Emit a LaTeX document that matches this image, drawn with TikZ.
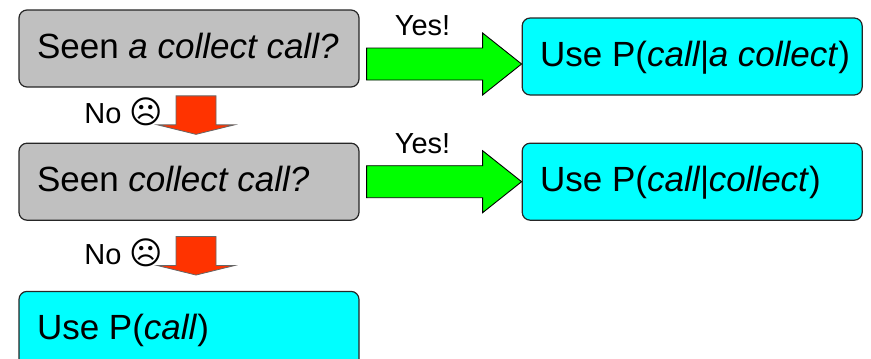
\documentclass[tikz,border=0pt]{standalone}
\usepackage{fontspec}
\setmainfont{Liberation Sans}
\newfontfamily\smileyfont{DejaVu Sans}
\usepackage{tikz}
\usetikzlibrary{calc,positioning}
\definecolor{askgray}{HTML}{C0C0C0}
\definecolor{usecyan}{HTML}{00FFFF}
\definecolor{yesgreen}{HTML}{00FF00}
\definecolor{nored}{HTML}{FF3300}
\tikzstyle{texto} = [inner sep=0pt, font=\fontsize{29}{33}\selectfont]
\tikzstyle{yes} = [draw=black, line width=0.9pt, fill=yesgreen]
\tikzstyle{no} = [draw=black!60, line width=0.8pt, fill=nored]
\newcommand{\yesarrow}[3]{%
  % tip on the west side of #2, moved down by #3
  \coordinate (yt) at ($(#2.west)+(0,#3)$);
  % start of the shaft just right of #1
  \coordinate (ye) at ($(#1.east)+(7pt,0)$);
  \coordinate (ys) at (ye |- yt);
  \path[yes] ($(ys)+(0,16pt)$) -- ($(yt)+(-39pt,16pt)$) -- ++(0,15pt) -- (yt)
    -- ($(yt)+(-39pt,-31pt)$) -- ++(0,15pt) -- ($(ys)+(0,-16pt)$) -- cycle;
  \node[texto] at ($(ys)+(56pt,38pt)$) {Yes!};}
\newcommand{\noarrow}[2]{%
  % arrow centred in the gap between #1 and #2
  \coordinate (nm) at ($(#1.south)!0.5!(#2.north)+(7pt,0)$);
  \coordinate (nt) at ($(nm)+(0,19.25pt)$);
  \path[no] (nt) ++(-20pt,0) -- ++(0,-29pt) -- ++(-18.5pt,0) -- ++(38.5pt,-9.5pt)
    -- ++(38.5pt,9.5pt) -- ++(-18.5pt,0) -- ++(0,29pt) -- cycle;
  \node[texto, anchor=east] at ($(nt)+(-33pt,-16pt)$)
    {No {\smileyfont\fontsize{32}{33}\selectfont ☹}};}

\begin{document}
\begin{tikzpicture}
\tikzset{box/.style={rectangle, rounded corners=8pt, draw=black!85, line width=1.2pt,
  minimum width=340pt, minimum height=77pt, inner xsep=18pt,
  text height=26pt, text depth=7pt, font=\fontsize{35}{40}\selectfont,
  execute at begin node=\hbox to 304pt\bgroup,
  execute at end node=\hss\egroup}}
\tikzset{ask/.style={box, fill=askgray}}
\tikzset{use/.style={box, fill=usecyan}}
\clip (0,0) rectangle (871pt,-359pt);

\node [ask] at (189pt,-48.5pt) (q1) {Seen \textit{a collect call?}};
\node [ask, below=55pt of q1] (q2) {Seen \textit{collect call?}};
\node [use, below=70pt of q2] (u3) {Use P(\textit{call})};
\node [use, right=162pt of q1, yshift=-8pt] (u1) {Use P(\textit{call|a collect})};
\node [use, right=162pt of q2] (u2) {Use P(\textit{call|collect})};

\yesarrow{q1}{u1}{-7.5pt}
\yesarrow{q2}{u2}{0pt}
\noarrow{q1}{q2}
\noarrow{q2}{u3}
\end{tikzpicture}
\end{document}
